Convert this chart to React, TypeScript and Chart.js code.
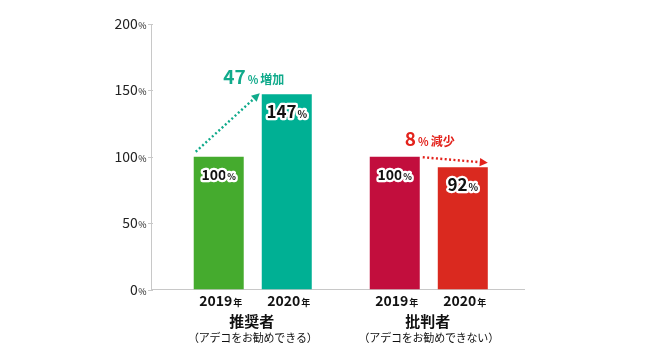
import React, { useEffect, useRef } from 'react';
import { Chart, registerables } from 'chart.js';

Chart.register(...registerables);

// ---- data ----
const groups = ['推奨者', '批判者'];
const groupNotes = ['（アデコをお勧めできる）', '（アデコをお勧めできない）'];
const years = ['2019', '2020'];
const yearSuffix = '年';
const values2019 = [100, 100];
const values2020 = [147, 92];
const yTicks = [0, 50, 100, 150, 200];
const changeWords = ['増加', '減少'];

// ---- styles ----
const colors2019 = ['#45ab2e', '#c20e3d'];
const colors2020 = ['#00b094', '#da291f'];
const changeColors = ['#10aa8b', '#e3231c'];
const FONT = "'Noto Sans CJK JP', 'Noto Sans', sans-serif";

type Part = { text: string; font: string; gapAfter?: number };

function measureParts(ctx: CanvasRenderingContext2D, parts: Part[]) {
  let total = 0;
  const widths = parts.map((p, i) => {
    ctx.font = p.font;
    const w = ctx.measureText(p.text).width;
    total += w + (i < parts.length - 1 ? p.gapAfter ?? 0 : 0);
    return w;
  });
  return { widths, total };
}

function drawParts(
  ctx: CanvasRenderingContext2D,
  x: number,
  baseline: number,
  parts: Part[],
  align: 'center' | 'right' | 'left',
  fill: string,
  outline?: { color: string; width: number }
) {
  const { widths, total } = measureParts(ctx, parts);
  let left = align === 'center' ? x - total / 2 : align === 'right' ? x - total : x;
  ctx.textAlign = 'left';
  ctx.textBaseline = 'alphabetic';
  parts.forEach((p, i) => {
    ctx.font = p.font;
    if (outline) {
      ctx.lineJoin = 'round';
      ctx.lineWidth = outline.width;
      ctx.strokeStyle = outline.color;
      ctx.strokeText(p.text, left, baseline);
    }
    ctx.fillStyle = fill;
    ctx.fillText(p.text, left, baseline);
    left += widths[i] + (p.gapAfter ?? 0);
  });
}

function drawDottedArrow(
  ctx: CanvasRenderingContext2D,
  x1: number,
  y1: number,
  x2: number,
  y2: number,
  color: string
) {
  const ang = Math.atan2(y2 - y1, x2 - x1);
  const headLen = 8;
  const headHalf = 4.2;
  const bx = x2 - Math.cos(ang) * headLen;
  const by = y2 - Math.sin(ang) * headLen;
  ctx.save();
  ctx.strokeStyle = color;
  ctx.lineWidth = 2.4;
  ctx.setLineDash([2, 2.4]);
  ctx.beginPath();
  ctx.moveTo(x1, y1);
  ctx.lineTo(bx, by);
  ctx.stroke();
  ctx.setLineDash([]);
  ctx.fillStyle = color;
  ctx.beginPath();
  ctx.moveTo(x2, y2);
  ctx.lineTo(bx + Math.sin(ang) * headHalf, by - Math.cos(ang) * headHalf);
  ctx.lineTo(bx - Math.sin(ang) * headHalf, by + Math.cos(ang) * headHalf);
  ctx.closePath();
  ctx.fill();
  ctx.restore();
}

const overlay = {
  id: 'overlay',
  afterDraw(chart: any) {
    const ctx: CanvasRenderingContext2D = chart.ctx;
    const yScale = chart.scales.y;
    const area = chart.chartArea;
    ctx.save();

    // y-axis tick labels & tick marks
    yTicks.forEach((v) => {
      const py = yScale.getPixelForValue(v);
      ctx.strokeStyle = '#c8c8c8';
      ctx.lineWidth = 1;
      ctx.beginPath();
      ctx.moveTo(area.left - 3, Math.round(py) + 0.5);
      ctx.lineTo(area.left + 2, Math.round(py) + 0.5);
      ctx.stroke();
      drawParts(
        ctx,
        area.left - 4.5,
        py + 5,
        [
          { text: String(v), font: `14px ${FONT}`, gapAfter: 0.5 },
          { text: '%', font: `9px ${FONT}` },
        ],
        'right',
        '#222'
      );
    });

    const m0 = chart.getDatasetMeta(0);
    const m1 = chart.getDatasetMeta(1);
    const outline = { color: '#ffffff', width: 4.5 };

    groups.forEach((g, i) => {
      const b1 = m0.data[i];
      const b2 = m1.data[i];
      const bars = [b1, b2];
      const vals = [values2019[i], values2020[i]];

      // value labels in bars
      bars.forEach((b: any, k: number) => {
        const big = k === 1;
        const size = big ? 17 : 14;
        const ps = big ? 10 : 9;
        drawParts(
          ctx,
          b.x,
          b.y + 18 + size * 0.36,
          [
            { text: String(vals[k]), font: `bold ${size}px ${FONT}`, gapAfter: 1 },
            { text: '%', font: `bold ${ps}px ${FONT}` },
          ],
          'center',
          '#111',
          outline
        );
      });

      // year labels under bars
      bars.forEach((b: any, k: number) => {
        drawParts(
          ctx,
          b.x + 2,
          area.bottom + 16,
          [
            { text: years[k], font: `bold 14px ${FONT}`, gapAfter: 1 },
            { text: yearSuffix, font: `bold 9px ${FONT}` },
          ],
          'center',
          '#111'
        );
      });

      // group labels
      const gx = (b1.x + b2.x) / 2;
      ctx.textAlign = 'center';
      ctx.textBaseline = 'middle';
      ctx.fillStyle = '#111';
      ctx.font = `bold 15px ${FONT}`;
      ctx.fillText(g, gx - 1, area.bottom + 32);
      ctx.font = `11px ${FONT}`;
      (ctx as any).letterSpacing = '-0.2px';
      ctx.fillText(groupNotes[i], gx, area.bottom + 48);
      (ctx as any).letterSpacing = '0px';

      // change annotation
      const diff = vals[1] - vals[0];
      const color = changeColors[i];
      const topY = Math.min(b1.y, b2.y);
      drawParts(
        ctx,
        gx + 1,
        topY - 17.5 + 7,
        [
          { text: String(Math.abs(diff)), font: `bold 19px ${FONT}`, gapAfter: 2 },
          { text: '%', font: `bold 11px ${FONT}`, gapAfter: 2 },
          { text: diff >= 0 ? changeWords[0] : changeWords[1], font: `bold 12px ${FONT}` },
        ],
        'center',
        color
      );

      // dotted arrow
      const l1 = b1.x - b1.width / 2;
      const r1 = b1.x + b1.width / 2;
      const l2 = b2.x - b2.width / 2;
      const r2 = b2.x + b2.width / 2;
      if (diff >= 0) {
        drawDottedArrow(ctx, l1 + 2, b1.y - 5, l2 - 2, b2.y - 1, color);
      } else {
        drawDottedArrow(ctx, r1 + 3, b1.y + 0.5, r2, b2.y - 4.5, color);
      }
    });

    ctx.restore();
  },
};

export default function App() {
  const ref = useRef<HTMLCanvasElement | null>(null);

  useEffect(() => {
    if (!ref.current) return;
    const chart = new Chart(ref.current, {
      type: 'bar',
      data: {
        datasets: [
          {
            label: years[0],
            data: values2019.map((v, i) => ({ x: i, y: v })),
            backgroundColor: colors2019,
            borderWidth: 0,
          },
          {
            label: years[1],
            data: values2020.map((v, i) => ({ x: i, y: v })),
            backgroundColor: colors2020,
            borderWidth: 0,
          },
        ],
      },
      options: {
        responsive: false,
        animation: false,
        devicePixelRatio: 1,
        layout: { padding: { left: 151, right: 126, top: 24, bottom: 70.5 } },
        plugins: { legend: { display: false }, tooltip: { enabled: false } },
        datasets: { bar: { categoryPercentage: 0.773, barPercentage: 0.735 } } as any,
        scales: {
          x: {
            type: 'linear',
            min: -0.578,
            max: 1.541,
            offset: false,
            grid: { display: false, drawTicks: false, tickLength: 0 },
            ticks: { display: false, padding: 0 },
            border: { display: true, color: '#c8c8c8', width: 1 },
            afterBuildTicks: (s: any) => {
              s.ticks = groups.map((_, i) => ({ value: i }));
            },
          },
          y: {
            min: 0,
            max: 200,
            grid: { display: false, drawTicks: false, tickLength: 0 },
            ticks: { display: false, padding: 0 },
            border: { display: true, color: '#c8c8c8', width: 1 },
          },
        },
      } as any,
      plugins: [overlay],
    });
    return () => chart.destroy();
  }, []);

  return (
    <div style={{ position: 'absolute', left: 0, top: 0, width: 650, height: 360, background: '#fff' }}>
      <canvas ref={ref} width={650} height={360} />
    </div>
  );
}
